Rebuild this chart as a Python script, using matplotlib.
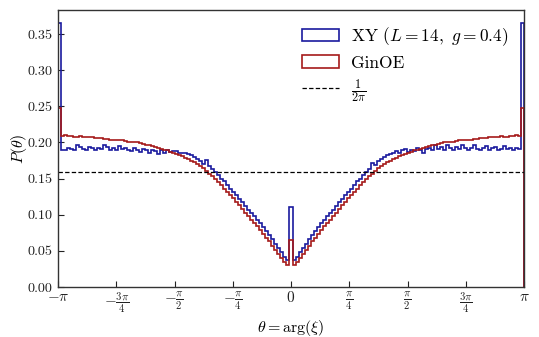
import numpy as np
import matplotlib
matplotlib.use("Agg")
import matplotlib.pyplot as plt

plt.rcParams['font.family'] = 'serif'
plt.rcParams['font.serif'] = ['cmr10']
plt.rcParams['mathtext.fontset'] = 'cm'
plt.rcParams['axes.formatter.use_mathtext'] = True

# Histogram values (155 bins over [-pi, pi])
xy_values = [
    0.365,
    0.190, 0.189, 0.193, 0.191, 0.190, 0.196, 0.194, 0.191, 0.190, 0.194,
    0.192, 0.189, 0.193, 0.191, 0.196, 0.194, 0.190, 0.192, 0.189, 0.195,
    0.191, 0.193, 0.190, 0.188, 0.192, 0.190, 0.187, 0.191, 0.189, 0.186,
    0.190, 0.188, 0.184, 0.189, 0.186, 0.190, 0.187, 0.188, 0.188, 0.186,
    0.186, 0.185, 0.184, 0.182, 0.180, 0.177, 0.174, 0.170, 0.176, 0.167,
    0.163, 0.159, 0.155, 0.150, 0.146, 0.141, 0.136, 0.132, 0.127, 0.122,
    0.117, 0.112, 0.107, 0.103, 0.098, 0.093, 0.088, 0.083, 0.077, 0.072,
    0.066, 0.060, 0.054, 0.048, 0.042, 0.037,
    0.110,
    0.037, 0.042, 0.048, 0.054, 0.060, 0.066, 0.072, 0.077, 0.083, 0.088,
    0.093, 0.098, 0.103, 0.107, 0.112, 0.117, 0.122, 0.127, 0.132, 0.136,
    0.141, 0.146, 0.150, 0.155, 0.159, 0.163, 0.171, 0.169, 0.174, 0.177,
    0.180, 0.182, 0.184, 0.186, 0.188, 0.186, 0.190, 0.191, 0.187, 0.190,
    0.188, 0.192, 0.189, 0.186, 0.191, 0.193, 0.189, 0.196, 0.191, 0.194,
    0.190, 0.196, 0.192, 0.190, 0.194, 0.191, 0.197, 0.193, 0.190, 0.192,
    0.196, 0.191, 0.189, 0.193, 0.195, 0.190, 0.192, 0.194, 0.190, 0.191,
    0.195, 0.191, 0.193, 0.190, 0.192, 0.191,
    0.365,
]

ginoe_values = [
    0.2475,
    0.209, 0.210, 0.209, 0.209, 0.208, 0.208, 0.209, 0.208, 0.207, 0.207,
    0.207, 0.206, 0.206, 0.206, 0.205, 0.205, 0.204, 0.204, 0.204, 0.203,
    0.203, 0.202, 0.201, 0.201, 0.200, 0.200, 0.199, 0.198, 0.197, 0.196,
    0.195, 0.194, 0.193, 0.191, 0.190, 0.189, 0.187, 0.186, 0.184, 0.183,
    0.181, 0.179, 0.177, 0.175, 0.173, 0.170, 0.167, 0.164, 0.161, 0.157,
    0.153, 0.149, 0.145, 0.141, 0.136, 0.132, 0.127, 0.123, 0.118, 0.113,
    0.108, 0.103, 0.098, 0.093, 0.089, 0.084, 0.079, 0.074, 0.068, 0.063,
    0.057, 0.051, 0.045, 0.040, 0.035, 0.031,
    0.065,
    0.031, 0.035, 0.040, 0.045, 0.051, 0.057, 0.063, 0.068, 0.074, 0.079,
    0.084, 0.089, 0.093, 0.098, 0.103, 0.108, 0.113, 0.118, 0.123, 0.127,
    0.132, 0.136, 0.141, 0.145, 0.149, 0.153, 0.157, 0.161, 0.164, 0.167,
    0.170, 0.173, 0.175, 0.177, 0.179, 0.181, 0.183, 0.184, 0.186, 0.187,
    0.189, 0.190, 0.191, 0.193, 0.194, 0.195, 0.196, 0.197, 0.198, 0.199,
    0.200, 0.200, 0.201, 0.201, 0.202, 0.203, 0.203, 0.204, 0.204, 0.204,
    0.205, 0.205, 0.206, 0.206, 0.206, 0.207, 0.207, 0.207, 0.208, 0.209,
    0.208, 0.208, 0.209, 0.209, 0.210, 0.209,
    0.2475,
]

xtick_labels = [r'$-\pi$', r'$-\frac{3\pi}{4}$', r'$-\frac{\pi}{2}$', r'$-\frac{\pi}{4}$',
                r'$0$', r'$\frac{\pi}{4}$', r'$\frac{\pi}{2}$', r'$\frac{3\pi}{4}$', r'$\pi$']
ytick_values = [0.00, 0.05, 0.10, 0.15, 0.20, 0.25, 0.30, 0.35]

nbins = len(xy_values)
edges = np.linspace(-np.pi, np.pi, nbins + 1)
centers = 0.5 * (edges[:-1] + edges[1:])

fig = plt.figure(figsize=(5.39, 3.37), dpi=100)
ax = fig.add_axes([58/539, 1-287/337, (524-58)/539, (287-10)/337])

ax.hist(centers, bins=edges, weights=xy_values, histtype='step',
        color='#1a1a9e', lw=1.2, label=r'XY ($L=14,\ g=0.4$)')
ax.hist(centers, bins=edges, weights=ginoe_values, histtype='step',
        color='#a51a1a', lw=1.2, label='GinOE')
ax.axhline(1/(2*np.pi), color='k', ls=(0, (3.5, 1.8)), lw=0.9, label=r'$\frac{1}{2\pi}$')

ax.set_xlim(-np.pi, np.pi)
ax.set_ylim(bottom=0)
ax.set_xticks(np.pi * np.arange(-4, 5) / 4)
ax.set_xticklabels(xtick_labels)
ax.set_yticks(ytick_values)
ax.set_yticklabels([f'{v:.2f}' for v in ytick_values])
ax.tick_params(direction='in', length=4, width=0.8, colors='#222222')
ax.tick_params(axis='y', pad=4, labelsize=10.2)
ax.tick_params(axis='x', pad=2.5, labelsize=11)
for s in ax.spines.values():
    s.set_color('#333333')
    s.set_linewidth(1.0)

ax.set_xlabel(r'$\theta = \arg(\xi)$', fontsize=11.5, labelpad=2)
ax.set_ylabel(r'$P(\theta)$', fontsize=11.5, labelpad=-1)

ax.legend(loc='upper right', frameon=False, fontsize=12.5, handlelength=2.1,
          handletextpad=0.7, labelspacing=0.4, borderaxespad=0.5)

fig.savefig('out.png', dpi=100)
